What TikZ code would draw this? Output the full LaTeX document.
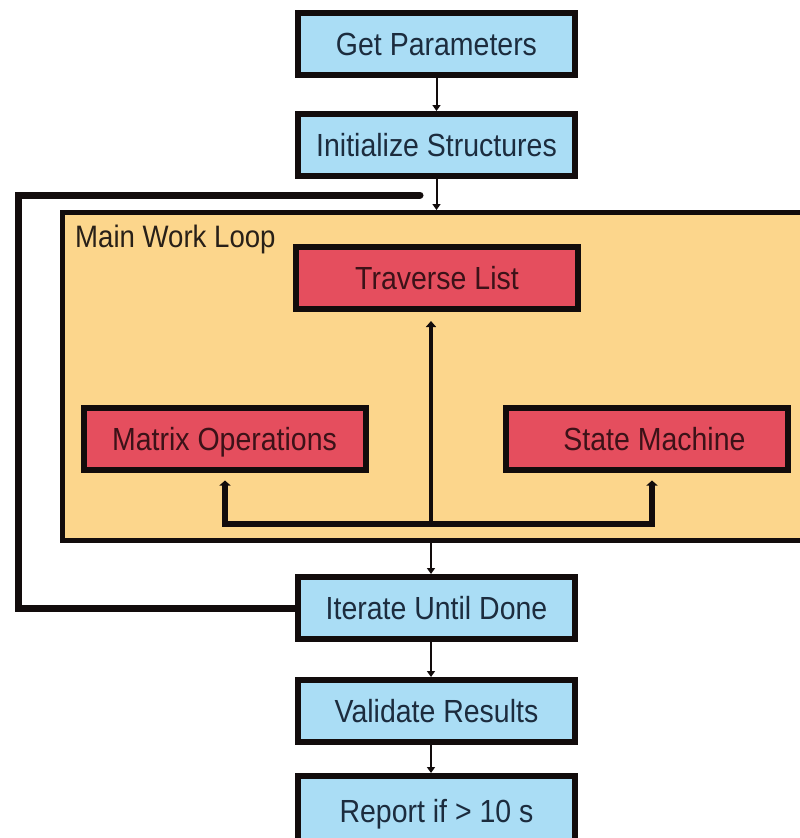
\documentclass[tikz,border=0pt]{standalone}
\usepackage{fontspec}
\setmainfont{Liberation Sans}[FakeStretch=0.89]
\usetikzlibrary{arrows.meta}

\definecolor{stepblue}{RGB}{170,221,245}
\definecolor{loopfill}{RGB}{252,214,140}
\definecolor{taskred}{RGB}{229,78,94}
\definecolor{ink}{RGB}{18,12,12}
\definecolor{bluetext}{RGB}{28,44,62}
\definecolor{redtext}{RGB}{60,18,24}
\definecolor{labeltext}{RGB}{40,32,24}

\begin{document}
\begin{tikzpicture}[x=1pt,y=-1pt,
  box/.style={draw=ink, line width=6pt, inner sep=0pt,
    minimum width=277pt, minimum height=62pt,
    text height=23pt, text depth=0pt,
    font=\fontsize{32}{36}\selectfont},
  stepbox/.style={box, fill=stepblue, text=bluetext},
  taskbox/.style={box, fill=taskred, text=redtext, minimum width=282pt},
  flow/.style={draw=ink, line width=2pt, -{Triangle[length=6pt,width=8pt]}},
  bus/.style={draw=ink, line width=6pt},
  loopline/.style={draw=ink, line width=7pt, line cap=round, line join=miter},
]
\useasboundingbox (0,0) rectangle (800,838);
\clip (0,0) rectangle (800,838);

% enclosing work loop
\node[draw=ink, line width=5pt, fill=loopfill, minimum width=750pt,
  minimum height=328pt, anchor=north west] (loop) at (60,210) {};
\node[anchor=north west, inner sep=0pt, text=labeltext,
  font=\fontsize{31}{35}\selectfont] (looplabel) at (75,225) {Main Work Loop};

% sequential steps
\node[stepbox] (getp)  at (436.5,44)  {Get Parameters};
\node[stepbox] (init)  at (436.5,145) {Initialize Structures};
\node[stepbox] (iter)  at (436.5,608) {Iterate Until Done};
\node[stepbox] (valid) at (436.5,711) {Validate Results};
\node[stepbox, minimum height=70pt] (report) at (436.5,811) {Report if > 10 s};

% tasks inside the loop
\node[taskbox] (trav)  at (437,278)   {Traverse List\hspace{8pt}};
\node[taskbox] (matrix) at (224.5,438.5) {Matrix Operations\hspace{12pt}};
\node[taskbox] (state) at (646.5,438.5) {\hspace{16pt}State Machine};

% junction points of the internal bus
\coordinate (hub)  at (431,524);
\coordinate (busL) at (225,524);
\coordinate (busR) at (652,524);

% feedback path
\coordinate (loopturn) at (18,195);
\coordinate (loopend)  at (420,195);
\draw[loopline] (iter.west) -| (loopturn) -- (loopend);

% straight flow
\draw[flow] (getp) -- (init);
\draw[flow] (init.south) -- (init.south |- loop.north);
\draw[flow] (loop.south -| hub) -- (iter.north -| hub);
\draw[flow] (iter.south -| hub) -- (valid.north -| hub);
\draw[flow] (valid.south -| hub) -- (report.north -| hub);

% internal bus
\draw[bus, {Triangle[length=5pt,width=11pt]}-{Triangle[length=5pt,width=11pt]},
  shorten <=8pt, shorten >=8pt]
  (busL |- matrix.south) -- (busL) -- (busR) -- (busR |- state.south);
\draw[draw=ink, line width=4pt, -{Triangle[length=6pt,width=10pt]}, shorten >=9pt]
  (hub) -- (trav.south -| hub);
\end{tikzpicture}
\end{document}
